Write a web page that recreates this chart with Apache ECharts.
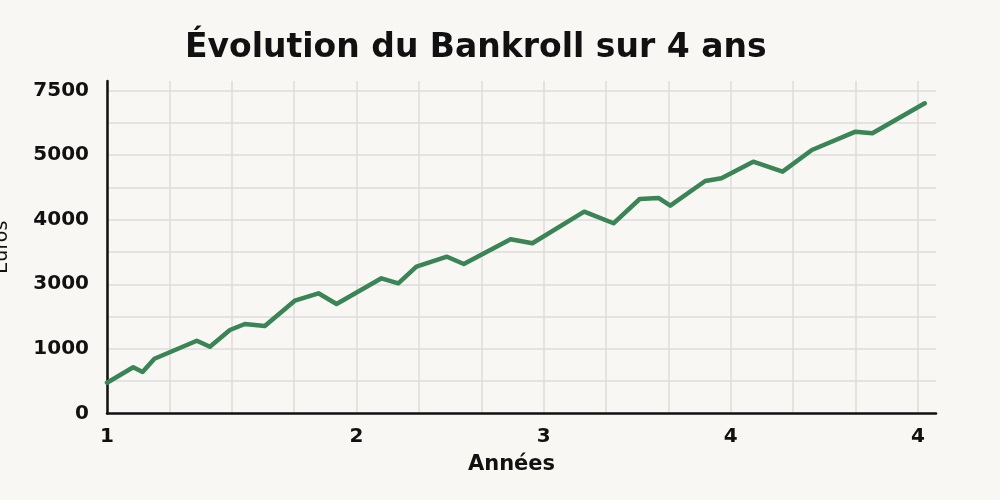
<!DOCTYPE html>
<html>
<head>
<meta charset="utf-8">
<script src="https://cdn.jsdelivr.net/npm/echarts@6/dist/echarts.min.js"></script>
<style>
html,body{margin:0;padding:0;background:#f8f7f4;}
#chart{width:1000px;height:500px;}
</style>
</head>
<body>
<div id="chart"></div>
<script>
// Data (x in grid steps, y in axis units)
var xValues = [0, 0.42, 0.57, 0.76, 1.44, 1.65, 1.97, 2.21, 2.53, 3.01, 3.39, 3.68, 4.40, 4.67, 4.96, 5.45, 5.72, 6.47, 6.82, 7.65, 8.12, 8.54, 8.84, 9.03, 9.59, 9.85, 10.36, 10.83, 11.30, 12.00, 12.27, 13.11];
var bankroll = [474, 713, 640, 846, 1125, 1032, 1291, 1384, 1353, 1745, 1860, 1694, 2092, 2015, 2272, 2427, 2314, 2697, 2635, 3125, 2945, 3321, 3337, 3218, 3600, 3642, 3900, 3745, 4081, 4365, 4340, 4805];
var xTickValues = [0, 4, 7, 10, 13];
var xTickLabels = ["1", "2", "3", "4", "4"];
var yTickValues = [0, 1000, 2000, 3000, 4000, 5000];
var yTickLabels = ["0", "1000", "3000", "4000", "5000", "7500"];

var seriesData = xValues.map(function (x, i) { return [x, bankroll[i]]; });

function lookup(vals, labels, v) {
  for (var i = 0; i < vals.length; i++) {
    if (Math.abs(vals[i] - v) < 1e-6) return labels[i];
  }
  return '';
}

var chart = echarts.init(document.getElementById('chart'), null, {renderer: 'canvas'});
var font = '"DejaVu Sans", sans-serif';
chart.setOption({
  animation: false,
  backgroundColor: '#f8f7f4',
  title: {
    text: 'Évolution du Bankroll sur 4 ans',
    left: 180,
    top: 27,
    textStyle: {fontFamily: font, fontWeight: 'bold', fontSize: 33, color: '#111111'}
  },
  grid: {left: 107, right: 64, top: 81, bottom: 86.7, containLabel: false, outerBoundsMode: 'none'},
  xAxis: {
    type: 'value',
    min: 0,
    max: 13.29,
    interval: 1,
    name: 'Années',
    nameLocation: 'middle',
    nameGap: 41,
    nameTextStyle: {fontFamily: font, fontSize: 21, fontWeight: 'bold', color: '#111111', padding: [0, 20, 0, 0]},
    axisLine: {show: true, onZero: false, lineStyle: {color: '#111111', width: 2.5}},
    axisTick: {show: false},
    axisLabel: {
      fontFamily: font, fontSize: 20, fontWeight: 'bold', color: '#111111', margin: 13,
      showMaxLabel: false,
      formatter: function (v) { return lookup(xTickValues, xTickLabels, v); }
    },
    splitLine: {show: true, showMaxLine: false, lineStyle: {color: '#dedddb', width: 1.5}}
  },
  yAxis: {
    type: 'value',
    min: 0,
    max: 5150,
    interval: 500,
    name: 'Euros',
    nameLocation: 'middle',
    nameRotate: 90,
    nameGap: 95,
    nameTextStyle: {fontFamily: font, fontSize: 19, color: '#111111'},
    axisLine: {show: true, onZero: false, lineStyle: {color: '#111111', width: 2.5}},
    axisTick: {show: false},
    axisLabel: {
      fontFamily: font, fontSize: 20, fontWeight: 'bold', color: '#111111', margin: 18,
      showMaxLabel: false,
      formatter: function (v) { return lookup(yTickValues, yTickLabels, v); }
    },
    splitLine: {show: true, showMaxLine: false, showMinLine: false, lineStyle: {color: '#dedddb', width: 1.5}}
  },
  series: [{
    type: 'line',
    data: seriesData,
    showSymbol: false,
    symbol: 'none',
    lineStyle: {color: '#3a8455', width: 4.5, cap: 'round', join: 'round'}
  }]
});
</script>
</body>
</html>
